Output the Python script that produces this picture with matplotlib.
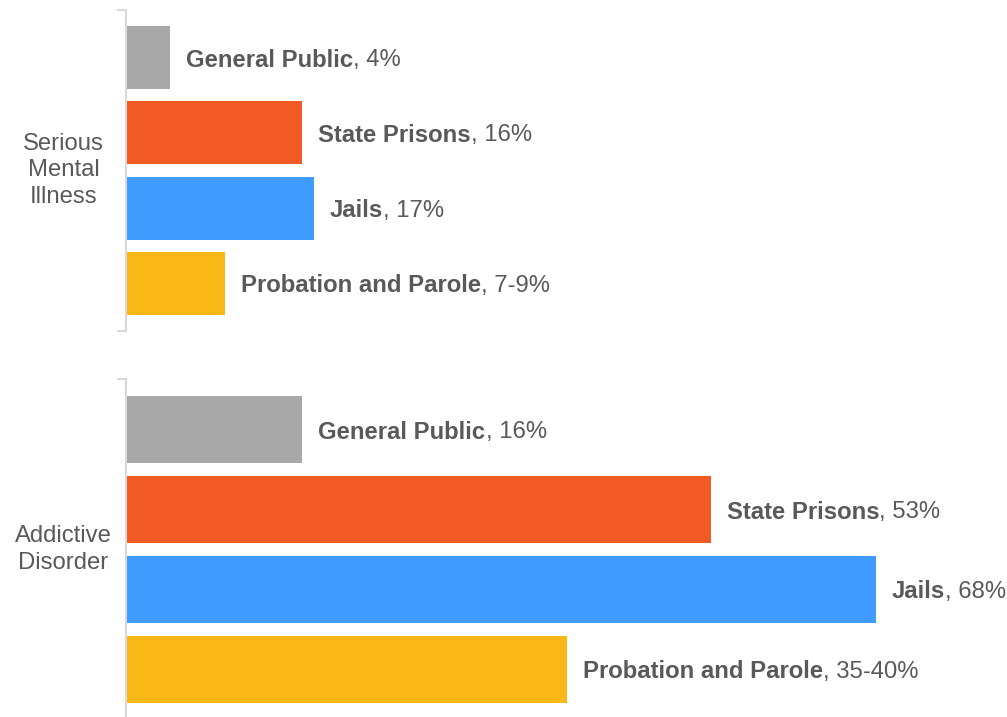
import matplotlib
matplotlib.use("Agg")
import matplotlib.pyplot as plt
from matplotlib.lines import Line2D

plt.rcParams['font.family'] = ['Liberation Sans', 'DejaVu Sans']

groups = ["Serious\nMental\nIllness", "Addictive\nDisorder"]
categories = ["General Public", "State Prisons", "Jails", "Probation and Parole"]
smi_values = [4, 16, 17, 9]
smi_labels = ["4%", "16%", "17%", "7-9%"]
add_values = [16, 53, 68, 40]
add_labels = ["16%", "53%", "68%", "35-40%"]
colors = ["#A8A8A8", "#F15A24", "#409BFF", "#F9B815"]

TXT = "#595959"
SPINE = "#D9D9D9"
FS = 17.2
W, H = 1007, 717
fig = plt.figure(figsize=(W / 100, H / 100), dpi=100)

def make_group(top_px, bot_px, values, labels, gname):
    ax = fig.add_axes([126 / W, 1 - bot_px / H, 881 / W, (bot_px - top_px) / H])
    ypos = list(range(len(categories)))
    ax.barh(ypos, values, height=0.84, color=colors, zorder=2)
    ax.set_xlim(0, 881 / 11.03)
    ax.set_ylim(3.635, -0.635)
    for s in ["top", "right", "bottom"]:
        ax.spines[s].set_visible(False)
    ax.spines["left"].set_color(SPINE)
    ax.spines["left"].set_linewidth(1.5)
    ax.set_xticks([])
    ax.set_yticks([])
    for y, v, c, lab in zip(ypos, values, categories, labels):
        t = ax.text(v + 1.45, y, c, fontsize=FS, fontweight="bold", color=TXT,
                    va="center_baseline", ha="left")
        ax.annotate(", " + lab, xy=(1, y), xycoords=(t, "data"), fontsize=FS,
                    color=TXT, va="center_baseline", ha="left")
    # bracket ticks
    for ypx in (top_px, bot_px):
        fy = 1 - ypx / H
        fig.add_artist(Line2D([118 / W, 125.5 / W], [fy, fy], transform=fig.transFigure,
                              color=SPINE, lw=1.5))
    cy = 1 - (top_px + bot_px) / 2 / H
    fig.text(63.5 / W, cy, gname, ha="center", va="center", fontsize=FS, color=TXT,
             linespacing=1.28)
    return ax

make_group(10, 331, smi_values, smi_labels, groups[0])
make_group(379, 720, add_values, add_labels, groups[1])

fig.savefig("out.png", dpi=100)
